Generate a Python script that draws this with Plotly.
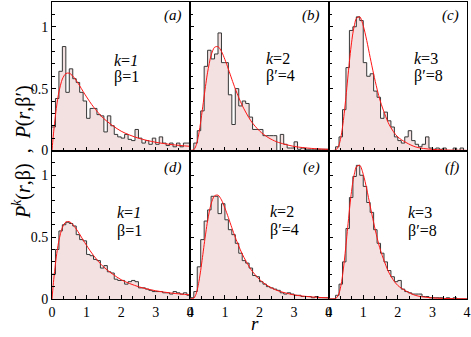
import plotly.graph_objects as go

# ---------------- data ----------------
bin_left = [0.0, 0.1, 0.2, 0.3, 0.4, 0.5, 0.6, 0.7, 0.8, 0.9,
            1.0, 1.1, 1.2, 1.3, 1.4, 1.5, 1.6, 1.7, 1.8, 1.9,
            2.0, 2.1, 2.2, 2.3, 2.4, 2.5, 2.6, 2.7, 2.8, 2.9,
            3.0, 3.1, 3.2, 3.3, 3.4, 3.5, 3.6, 3.7, 3.8, 3.9]
bin_right_end = 4.0

hist_a = [0.19, 0.42, 0.64, 0.84, 0.47, 0.66, 0.58, 0.55, 0.47, 0.40,
          0.26, 0.34, 0.34, 0.29, 0.28, 0.15, 0.28, 0.20, 0.13, 0.11,
          0.10, 0.13, 0.09, 0.08, 0.17, 0.10, 0.06, 0.08, 0.05, 0.10,
          0.05, 0.11, 0.06, 0.04, 0.06, 0.03, 0.06, 0.03, 0.06, 0.06]
hist_b = [0.00, 0.06, 0.16, 0.32, 0.68, 0.81, 0.74, 0.78, 0.95, 0.71,
          0.71, 0.45, 0.21, 0.50, 0.36, 0.40, 0.38, 0.27, 0.17, 0.17,
          0.17, 0.12, 0.12, 0.12, 0.12, 0.00, 0.13, 0.05, 0.02, 0.02,
          0.07, 0.01, 0.02, 0.01, 0.01, 0.01, 0.01, 0.01, 0.01, 0.01]
hist_c = [0.00, 0.00, 0.03, 0.11, 0.33, 0.67, 0.97, 1.00, 1.08, 1.05,
          0.71, 0.60, 0.62, 0.48, 0.43, 0.26, 0.31, 0.24, 0.19, 0.11,
          0.08, 0.06, 0.11, 0.16, 0.08, 0.05, 0.03, 0.05, 0.11, 0.02,
          0.01, 0.02, 0.01, 0.02, 0.00, 0.00, 0.02, 0.00, 0.02, 0.00]
hist_d = [0.20, 0.40, 0.55, 0.60, 0.62, 0.61, 0.59, 0.52, 0.48, 0.47,
          0.36, 0.35, 0.32, 0.31, 0.25, 0.27, 0.22, 0.21, 0.16, 0.15,
          0.15, 0.12, 0.14, 0.15, 0.14, 0.09, 0.09, 0.08, 0.07, 0.06,
          0.06, 0.06, 0.05, 0.05, 0.04, 0.06, 0.05, 0.04, 0.05, 0.03]
hist_e = [0.01, 0.06, 0.26, 0.48, 0.63, 0.72, 0.83, 0.83, 0.69, 0.77,
          0.64, 0.56, 0.52, 0.45, 0.37, 0.31, 0.29, 0.25, 0.19, 0.18,
          0.14, 0.12, 0.10, 0.09, 0.08, 0.07, 0.05, 0.04, 0.05, 0.04,
          0.03, 0.03, 0.02, 0.02, 0.02, 0.01, 0.02, 0.01, 0.01, 0.01]
hist_f = [0.00, 0.00, 0.03, 0.12, 0.30, 0.57, 0.82, 0.99, 1.08, 1.00,
          0.91, 0.78, 0.70, 0.56, 0.45, 0.37, 0.30, 0.23, 0.18, 0.14,
          0.15, 0.08, 0.06, 0.05, 0.04, 0.04, 0.04, 0.02, 0.02, 0.01,
          0.01, 0.01, 0.01, 0.00, 0.01, 0.00, 0.01, 0.00, 0.00, 0.00]

curve_r_beta1 = [0, 0.02, 0.05, 0.1, 0.15, 0.2, 0.3, 0.4, 0.5, 0.6, 0.7, 0.8,
                 0.9, 1.0, 1.2, 1.5, 2.0, 2.5, 3.0, 3.5, 4.0]
curve_beta1 = [0, 0.066, 0.156, 0.286, 0.391, 0.473, 0.578, 0.622, 0.625, 0.602,
               0.566, 0.523, 0.477, 0.433, 0.352, 0.257, 0.156, 0.0995, 0.0665,
               0.0463, 0.0334]

curve_r_beta4 = [0, 0.1, 0.15, 0.2, 0.25, 0.3, 0.35, 0.4, 0.45, 0.5, 0.6, 0.7,
                 0.8, 0.9, 1.0, 1.1, 1.2, 1.3, 1.4, 1.5, 1.75, 2.0, 2.25, 2.5,
                 3.0, 3.5, 4.0]
curve_beta4 = [0, 0.007, 0.029, 0.074, 0.143, 0.232, 0.334, 0.440, 0.541, 0.633,
               0.768, 0.834, 0.839, 0.801, 0.735, 0.658, 0.576, 0.498, 0.428,
               0.364, 0.240, 0.158, 0.105, 0.070, 0.033, 0.017, 0.009]

curve_r_beta8 = [0, 0.1, 0.15, 0.2, 0.25, 0.3, 0.35, 0.4, 0.45, 0.5, 0.55, 0.6,
                 0.65, 0.7, 0.75, 0.8, 0.9, 1.0, 1.1, 1.2, 1.3, 1.4, 1.5, 1.75,
                 2.0, 2.5, 3.0, 4.0]
curve_beta8 = [0, 0.0, 0.0006, 0.004, 0.017, 0.046, 0.102, 0.187, 0.301, 0.435,
               0.578, 0.719, 0.845, 0.948, 1.02, 1.067, 1.080, 1.008, 0.890,
               0.752, 0.618, 0.496, 0.392, 0.209, 0.109, 0.030, 0.009, 0.001]

panel_letters = ["(a)", "(b)", "(c)", "(d)", "(e)", "(f)"]
k_labels = ["<i>k</i>=<i>1</i>", "<i>k</i>=2", "<i>k</i>=3",
            "<i>k</i>=<i>1</i>", "<i>k</i>=2", "<i>k</i>=3"]
beta_labels = ["β=1", "β′=4", "β′=8", "β=1", "β′=4", "β′=8"]
x_tick_vals = [0, 1, 2, 3, 4]
y_tick_vals = [0, 0.5, 1]
y_tick_text = ["0", "0.5", "1"]

# ---------------- figure ----------------
FONT = "Liberation Serif"
FILL = "rgb(243,225,225)"
HISTLINE = "rgb(55,55,55)"
RED = "rgb(255,20,20)"

hists = [hist_a, hist_b, hist_c, hist_d, hist_e, hist_f]
curves = [(curve_r_beta1, curve_beta1), (curve_r_beta4, curve_beta4),
          (curve_r_beta8, curve_beta8)] * 2

label_pos = [  # (x of k/beta text in data, y of k, y of beta, y of letter)
    (1.73, 0.73, 0.59, 1.09), (2.13, 0.74, 0.60, 1.09), (2.42, 0.74, 0.60, 1.09),
    (1.81, 0.70, 0.55, 1.06), (2.24, 0.71, 0.56, 1.06), (2.25, 0.70, 0.55, 1.06),
]

fig = go.Figure()
annotations = []
for i in range(6):
    row, col = divmod(i, 3)
    ax = "" if i == 0 else str(i + 1)
    xa, ya = "x" + ax, "y" + ax
    h = hists[i]
    fig.add_trace(go.Scatter(
        x=bin_left + [bin_right_end], y=h + [h[-1]], mode="lines",
        line=dict(shape="hv", color=HISTLINE, width=1),
        fill="tozeroy", fillcolor=FILL, xaxis=xa, yaxis=ya,
        showlegend=False, hoverinfo="skip"))
    cr, cv = curves[i]
    fig.add_trace(go.Scatter(
        x=cr, y=cv, mode="lines",
        line=dict(shape="spline", color=RED, width=1, smoothing=0.8),
        xaxis=xa, yaxis=ya, showlegend=False, hoverinfo="skip"))

    xd = [col / 3, (col + 1) / 3]
    yd = [0.5, 1.0] if row == 0 else [0.0, 0.5]
    fig.layout["xaxis" + ax] = dict(
        domain=xd, range=[0, 4], anchor=ya, showgrid=False, zeroline=False,
        showline=True, linecolor="black", linewidth=1, mirror=True,
        ticks="inside", ticklen=4, tickcolor="black", tickvals=x_tick_vals,
        showticklabels=(row == 1),
        tickfont=dict(family=FONT, size=14, color="black"),
        minor=dict(dtick=1 / 3, tick0=0, ticks="inside", ticklen=3,
                   tickcolor="black", showgrid=False))
    fig.layout["yaxis" + ax] = dict(
        domain=yd, range=[0, 1.2], anchor=xa, showgrid=False, zeroline=False,
        showline=True, linecolor="black", linewidth=1, mirror=True,
        ticks="inside", ticklen=4, tickcolor="black",
        tickvals=y_tick_vals, ticktext=y_tick_text,
        showticklabels=(col == 0),
        tickfont=dict(family=FONT, size=14, color="black"),
        minor=dict(dtick=0.1, tick0=0, ticks="inside", ticklen=3,
                   tickcolor="black", showgrid=False))

    lx, ky, by, ly = label_pos[i]
    annotations.append(dict(xref=xa, yref=ya, x=lx, y=ky, text=k_labels[i],
                            showarrow=False, xanchor="left", yanchor="middle",
                            font=dict(family=FONT, size=16, color="black")))
    annotations.append(dict(xref=xa, yref=ya, x=lx, y=by, text=beta_labels[i],
                            showarrow=False, xanchor="left", yanchor="middle",
                            font=dict(family=FONT, size=16, color="black")))
    annotations.append(dict(xref=xa, yref=ya, x=3.82, y=ly,
                            text="<i>" + panel_letters[i] + "</i>",
                            showarrow=False, xanchor="right", yanchor="middle",
                            font=dict(family=FONT, size=15, color="black")))

annotations.append(dict(xref="paper", yref="paper", x=-0.072, y=0.495,
                        text="<i>P</i><sup><i>k</i></sup>(<i>r</i>,β)  ,  <i>P</i>(<i>r</i>,β′)",
                        textangle=-90, showarrow=False, xanchor="center",
                        yanchor="middle",
                        font=dict(family=FONT, size=20, color="black")))
annotations.append(dict(xref="paper", yref="paper", x=0.49, y=-0.084,
                        text="<i>r</i>", showarrow=False, xanchor="center",
                        yanchor="middle",
                        font=dict(family=FONT, size=19, color="black")))

fig.update_layout(
    width=471, height=337,
    margin=dict(l=52, r=4, t=2, b=38),
    paper_bgcolor="white", plot_bgcolor="white",
    annotations=annotations,
    font=dict(family=FONT, color="black"),
)

fig.write_html("out.html",
               config={"displayModeBar": False},
               post_script="document.body.style.margin='0';"
                           "document.body.style.padding='0';")
